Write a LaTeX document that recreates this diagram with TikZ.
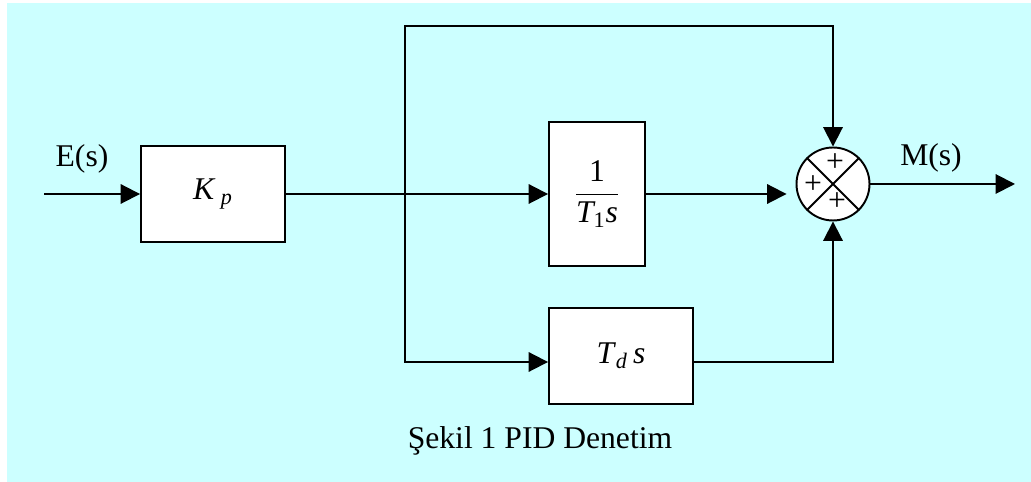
\documentclass[tikz,border=0pt]{standalone}
\usepackage{amsmath}
\usepackage{fontspec}
\setmainfont{Liberation Serif}
\usetikzlibrary{arrows.meta}
\definecolor{bgcyan}{RGB}{204,255,255}
\tikzset{
  block/.style={draw,fill=white,line width=1.1pt,minimum width=2.88cm,minimum height=1.92cm,inner sep=0pt},
  sumnode/.style={circle,draw,fill=white,line width=1.1pt,minimum size=1.46cm,inner sep=0pt},
  sig/.style={-{Triangle[length=11pt,width=11pt]},line width=1.1pt},
  wire/.style={line width=1.1pt}
}
\begin{document}
\begin{tikzpicture}[x=0.02cm,y=-0.02cm,every node/.style={font=\fontsize{18}{21}\selectfont}]
    % page and cyan panel
    \useasboundingbox (0,0) rectangle (1031,482);
    \fill[bgcyan] (7,3) rectangle (1031,482);
    % blocks
    \node[block] (kp) at (213,194) {\textit{K}\,$_{\textit{p}}$};
    \node[block,minimum width=1.92cm,minimum height=2.88cm] (ti) at (597,194)
      {$\dfrac{\text{1}}{\textit{T}_{\text{1}}\textit{s}}$};
    \node[block] (td) at (621,356) {\textit{T}$_{\textit{d}}$\,\textit{s}};
    % summing junction
    \node[sumnode] (sum) at (833,184) {};
    \draw[wire] (sum.north west) -- (sum.south east) (sum.north east) -- (sum.south west);
    \foreach \x/\y/\n in {835/163/pt,813/185/pl,837/202/pb} \node (\n) at (\x,\y) {+};
    % branch points and free ends
    \coordinate (in) at (44,194);
    \coordinate (split) at (405,194);
    \coordinate (topl) at (405,26);
    \coordinate (topr) at (833,26);
    \coordinate (out) at (1015,184);
    % signals
    \draw[sig] (in) -- (kp);
    \draw[sig] (kp) -- (ti);
    \draw[sig] (split) -- (topl) -- (topr) -- (sum);
    \draw[sig,shorten >=0.18cm] (ti) -- (ti -| sum.west);
    \draw[sig] (split) |- ([yshift=-0.12cm]td.west);
    \draw[sig] ([yshift=-0.12cm]td.east) -| (sum);
    \draw[sig] (sum) -- (out);
    % labels
    \node (es) at (82,159) {E(s)};
    \node (ms) at (931,158) {M(s)};
    \node (cap) at (540,441) {Şekil 1 PID Denetim};
\end{tikzpicture}
\end{document}
